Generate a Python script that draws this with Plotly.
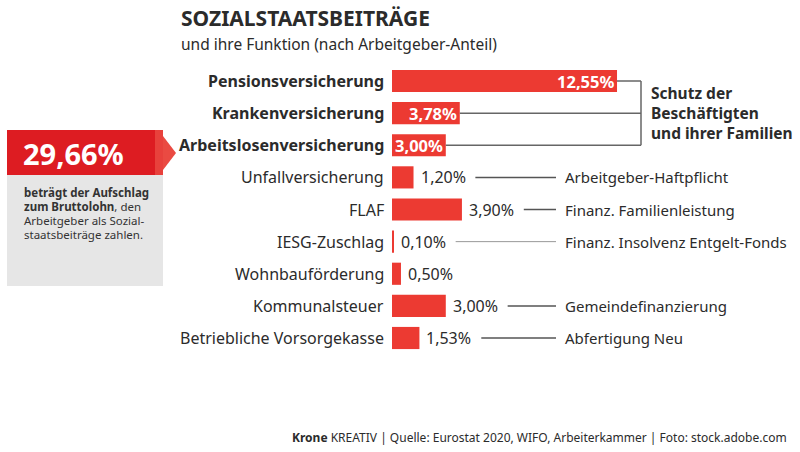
import plotly.graph_objects as go

# --- Daten ---
kategorien = [
    "Pensionsversicherung", "Krankenversicherung", "Arbeitslosenversicherung",
    "Unfallversicherung", "FLAF", "IESG-Zuschlag", "Wohnbauförderung",
    "Kommunalsteuer", "Betriebliche Vorsorgekasse",
]
anteile = [12.55, 3.78, 3.00, 1.20, 3.90, 0.10, 0.50, 3.00, 1.53]
funktionen = [None, None, None, "Arbeitgeber-Haftpflicht", "Finanz. Familienleistung",
              "Finanz. Insolvenz Entgelt-Fonds", None, "Gemeindefinanzierung", "Abfertigung Neu"]
gruppe = "Schutz der<br>Beschäftigten<br>und ihrer Familien"
summe = "29,66%"

FONT = "Noto Sans"
ROT = "#ec3a32"
TEXT = "#2b2b2b"
W, H = 800, 452

# Pixel -> Achsen (x: 0 bei px 392, 17.93 px je Prozentpunkt; y: Zeile 0 bei px 81)
PX0, PXU = 392, 17.93
PY0, PYU = 81, 32.125
x_range = [-PX0 / PXU, (W - PX0) / PXU]
y_range = [(H - PY0) / PYU, -PY0 / PYU]


def px(x):
    return (x - PX0) / PXU


def fmt(v):
    return f"{v:.2f}".replace(".", ",") + "%"


fig = go.Figure(go.Bar(
    x=anteile, y=list(range(len(kategorien))), orientation="h",
    marker=dict(color=ROT, line=dict(width=0)), width=0.69,
    hoverinfo="skip",
))

ann = []
shapes = []
for i, (k, v, f) in enumerate(zip(kategorien, anteile, funktionen)):
    top = i < 3
    ann.append(dict(x=0, y=i, xref="x", yref="y", text=f"<b>{k}</b>" if top else k,
                    xanchor="right", xshift=-6, showarrow=False,
                    font=dict(family=FONT, size=16, color=TEXT)))
    if top:
        ann.append(dict(x=v, y=i, xref="x", yref="y", text=f"<b>{fmt(v)}</b>",
                        xanchor="right", xshift=-1, showarrow=False,
                        font=dict(family=FONT, size=16.5, color="white")))
        shapes.append(dict(type="line", xref="x", yref="y", x0=v, x1=px(641), y0=i, y1=i,
                           line=dict(color="#666", width=1.5)))
    else:
        ann.append(dict(x=v, y=i, xref="x", yref="y", text=fmt(v),
                        xanchor="left", xshift=5, showarrow=False,
                        font=dict(family=FONT, size=16, color=TEXT)))
        if f:
            shapes.append(dict(type="line", xref="x", yref="y", x0=v + 3.45, x1=px(556), y0=i, y1=i,
                               line=dict(color="#999" if v < 0.3 else "#555", width=1 if v < 0.3 else 1.5)))
            ann.append(dict(x=px(563), y=i, xref="x", yref="y", text=f,
                            xanchor="left", showarrow=False,
                            font=dict(family=FONT, size=15, color=TEXT)))

# Klammer für die ersten drei
shapes.append(dict(type="line", xref="x", yref="y", x0=px(641), x1=px(641), y0=0, y1=2,
                   line=dict(color="#666", width=1.5)))
ann.append(dict(x=px(649), y=1, xref="x", yref="y", text=f"<b>{gruppe}</b>",
                xanchor="left", align="left", showarrow=False,
                font=dict(family=FONT, size=15.5, color=TEXT)))

# Infobox links
def P(x, y):
    return x / W, 1 - y / H

bx0, bx1 = 7, 163
shapes += [
    dict(type="rect", xref="paper", yref="paper", x0=P(bx0, 0)[0], x1=P(bx1, 0)[0],
         y0=P(0, 286)[1], y1=P(0, 175)[1], fillcolor="#e6e6e6", line=dict(width=0), layer="below"),
    dict(type="rect", xref="paper", yref="paper", x0=P(bx0, 0)[0], x1=P(bx1, 0)[0],
         y0=P(0, 175)[1], y1=P(0, 130)[1], fillcolor="#dd1c22", line=dict(width=0)),
    dict(type="rect", xref="paper", yref="paper", x0=P(155, 0)[0], x1=P(bx1, 0)[0],
         y0=P(0, 175)[1], y1=P(0, 130)[1], fillcolor="#e8413c", line=dict(width=0)),
    dict(type="path", xref="paper", yref="paper",
         path=f"M {P(163,136)[0]},{P(163,136)[1]} L {P(176,153)[0]},{P(176,153)[1]} "
              f"L {P(163,170)[0]},{P(163,170)[1]} Z",
         fillcolor="#ea4a42", line=dict(width=0)),
]
ann.append(dict(x=P(21, 0)[0], y=P(0, 153)[1], xref="paper", yref="paper",
                text=f"<b>{summe}</b>", xanchor="left", yanchor="middle", showarrow=False,
                font=dict(family=FONT, size=29, color="white")))
box_zeilen = ["<b>beträgt der Aufschlag</b>", "<b>zum Bruttolohn</b>, den",
              "Arbeitgeber als Sozial-", "staatsbeiträge zahlen."]
for j, z in enumerate(box_zeilen):
    ann.append(dict(x=P(22, 0)[0], y=P(0, 192 + j * 14.3)[1], xref="paper", yref="paper",
                    text=z, xanchor="left", yanchor="middle", showarrow=False,
                    font=dict(family=FONT, size=11.5, color="#333")))

# Titel und Quelle
ann += [
    dict(x=P(179, 0)[0], y=P(0, 18.5)[1], xref="paper", yref="paper", text="<b>SOZIALSTAATSBEITRÄGE</b>",
         xanchor="left", yanchor="middle", showarrow=False, font=dict(family=FONT, size=21, color=TEXT)),
    dict(x=P(179, 0)[0], y=P(0, 44)[1], xref="paper", yref="paper",
         text="und ihre Funktion (nach Arbeitgeber-Anteil)",
         xanchor="left", yanchor="middle", showarrow=False, font=dict(family=FONT, size=15.5, color=TEXT)),
    dict(x=P(789, 0)[0], y=P(0, 437)[1], xref="paper", yref="paper",
         text="<b>Krone</b> KREATIV | Quelle: Eurostat 2020, WIFO, Arbeiterkammer | Foto: stock.adobe.com",
         xanchor="right", yanchor="middle", showarrow=False, font=dict(family=FONT, size=12, color=TEXT)),
]

fig.update_layout(
    width=W, height=H, margin=dict(l=0, r=0, t=0, b=0),
    paper_bgcolor="white", plot_bgcolor="white", showlegend=False,
    xaxis=dict(range=x_range, visible=False, fixedrange=True),
    yaxis=dict(range=y_range, visible=False, fixedrange=True),
    annotations=ann, shapes=shapes,
)

# Seitenrand des Browsers entfernen, damit die Grafik bei (0,0) beginnt
fig.write_html("out.html", config={"displayModeBar": False},
               post_script="document.body.style.margin='0';")
